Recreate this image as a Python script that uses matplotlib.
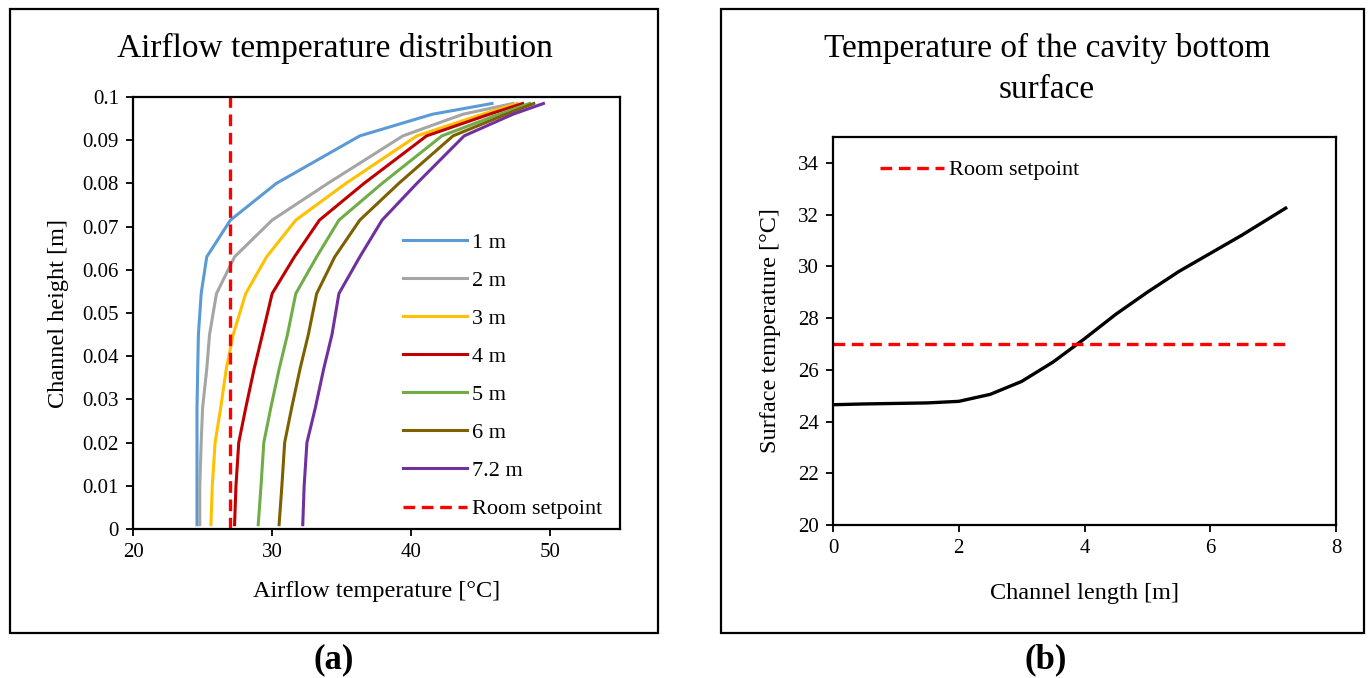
import matplotlib
matplotlib.use("Agg")
import matplotlib.pyplot as plt
from matplotlib.patches import Rectangle

plt.rcParams['font.family'] = ['Liberation Serif', 'DejaVu Serif']

# (a) airflow temperature profiles along the channel
heights = [0.001, 0.01, 0.02, 0.028, 0.037, 0.045, 0.0545, 0.063, 0.0715, 0.080, 0.091, 0.096, 0.0985]
lengths = ['1 m', '2 m', '3 m', '4 m', '5 m', '6 m', '7.2 m']
temp_1m = [24.6, 24.6, 24.6, 24.6, 24.65, 24.7, 24.9, 25.3, 27.0, 30.3, 36.3, 41.5, 45.8]
temp_2m = [24.8, 24.8, 24.9, 25.0, 25.3, 25.5, 26.0, 27.3, 30.0, 34.0, 39.4, 43.7, 47.3]
temp_3m = [25.6, 25.7, 25.9, 26.3, 26.7, 27.2, 28.1, 29.6, 31.7, 35.3, 40.4, 45.1, 47.6]
temp_4m = [27.3, 27.4, 27.6, 28.1, 28.7, 29.3, 30.0, 31.6, 33.4, 36.6, 41.1, 45.6, 48.0]
temp_5m = [29.0, 29.2, 29.4, 29.9, 30.5, 31.1, 31.7, 33.2, 34.8, 37.9, 42.2, 46.3, 48.5]
temp_6m = [30.5, 30.7, 30.9, 31.4, 32.0, 32.6, 33.2, 34.5, 36.3, 39.1, 43.0, 46.8, 48.8]
temp_72m = [32.2, 32.3, 32.5, 33.1, 33.7, 34.3, 34.8, 36.3, 37.9, 40.4, 43.8, 47.3, 49.5]
colors = ['#5b9bd5', '#a5a5a5', '#ffc000', '#c00000', '#70ad47', '#7f6000', '#7030a0']

setpoint = 27.0

# (b) cavity bottom surface temperature
channel_x = [0, 0.5, 1.0, 1.5, 2.0, 2.5, 3.0, 3.5, 4.0, 4.5, 5.0, 5.5, 6.0, 6.5, 7.0, 7.2]
surface_t = [24.65, 24.68, 24.7, 24.72, 24.78, 25.05, 25.55, 26.3, 27.2, 28.15, 29.0, 29.8, 30.5, 31.2, 31.95, 32.25]

W, H = 1371, 678
fig = plt.figure(figsize=(W / 100, H / 100), dpi=100)

# panel frames
for x0, x1 in [(10, 658), (721, 1364)]:
    fig.patches.append(Rectangle((x0 / W, 1 - 633 / H), (x1 - x0) / W, 624 / H,
                                 transform=fig.transFigure, fill=False, edgecolor='black', linewidth=1.6))

dash = (0, (3.5, 2))

ax1 = fig.add_axes([133 / W, 1 - 529 / H, 487 / W, 432 / H])
series = [temp_1m, temp_2m, temp_3m, temp_4m, temp_5m, temp_6m, temp_72m]
for name, temps, c in zip(lengths, series, colors):
    ax1.plot(temps, heights, color=c, linewidth=2.2, label=name)
ax1.plot([setpoint, setpoint], [0, 0.1], color='red', linestyle=dash, linewidth=2.4, label='Room setpoint')
ax1.set_xlim(20, 55)
ax1.set_ylim(0, 0.1)
ax1.set_xticks([20, 30, 40, 50])
ax1.set_yticks([i / 100 for i in range(11)])
ax1.set_yticklabels(['0'] + ['%g' % (i / 100) for i in range(1, 11)])
ax1.set_xlabel('Airflow temperature [°C]', fontsize=17.5, labelpad=14)
ax1.set_ylabel('Channel height [m]', fontsize=17.5, labelpad=10)
fig.text(335 / W, 1 - 48 / H, 'Airflow temperature distribution', fontsize=24, ha='center', va='center')
ax1.legend(loc='upper left', bbox_to_anchor=(0.536, 0.708), frameon=False, fontsize=16,
           handlelength=2.9, handletextpad=0.22, labelspacing=0.79, borderaxespad=0)

ax2 = fig.add_axes([833 / W, 1 - 525 / H, 503 / W, 388 / H])
ax2.plot(channel_x, surface_t, color='black', linewidth=2.4)
ax2.plot([0, 7.2], [setpoint, setpoint], color='red', linestyle=dash, linewidth=2.4, label='Room setpoint')
ax2.set_xlim(0, 8)
ax2.set_ylim(20, 35)
ax2.set_xticks([0, 2, 4, 6, 8])
ax2.set_yticks([20, 22, 24, 26, 28, 30, 32, 34])
ax2.set_xlabel('Channel length [m]', fontsize=17.5, labelpad=18)
ax2.set_ylabel('Surface temperature [°C]', fontsize=17.5, labelpad=12)
fig.text(1047 / W, 1 - 48 / H, 'Temperature of the cavity bottom', fontsize=24, ha='center', va='center')
fig.text(1047 / W, 1 - 90 / H, 'surface', fontsize=24, ha='center', va='center')
ax2.legend(loc='upper left', bbox_to_anchor=(0.0755, 0.964), frameon=False, fontsize=16,
           handlelength=2.9, handletextpad=0.22, borderaxespad=0)

for ax in (ax1, ax2):
    ax.tick_params(direction='out', length=5, width=1.3, labelsize=15, color='black', pad=5)
    for s in ax.spines.values():
        s.set_linewidth(1.6)

fig.text(334 / W, 1 - 660 / H, '(a)', fontsize=25, fontweight='bold', ha='center', va='center')
fig.text(1046 / W, 1 - 660 / H, '(b)', fontsize=25, fontweight='bold', ha='center', va='center')

fig.savefig('out.png', dpi=100)
